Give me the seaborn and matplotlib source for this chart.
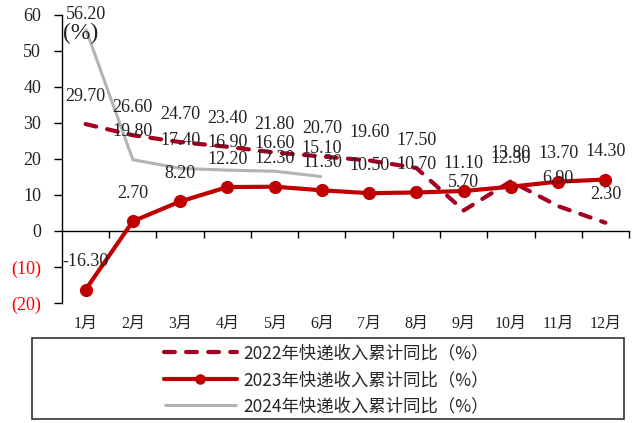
"""Express revenue cumulative YoY growth, 2022-2024 (line chart, seaborn)."""

import matplotlib.pyplot as plt
import numpy as np
import pandas as pd
import seaborn as sns
from matplotlib.patches import Rectangle

sns.set_theme(style="white")
plt.rcParams["font.family"] = ["Liberation Serif", "Noto Sans CJK SC", "DejaVu Sans"]

MONTHS = ["1月", "2月", "3月", "4月", "5月", "6月", "7月", "8月", "9月", "10月", "11月", "12月"]
Y2022 = [29.7, 26.6, 24.7, 23.4, 21.8, 20.7, 19.6, 17.5, 5.7, 13.8, 6.9, 2.3]
Y2023 = [-16.3, 2.7, 8.2, 12.2, 12.3, 11.3, 10.5, 10.7, 11.1, 12.3, 13.7, 14.3]
Y2024 = [56.2, 19.8, 17.4, 16.9, 16.6, 15.1]
LABELS = ["2022年快递收入累计同比（%）", "2023年快递收入累计同比（%）", "2024年快递收入累计同比（%）"]
YTICKS = [-20, -10, 0, 10, 20, 30, 40, 50, 60]
YTICK_LABELS = ["(20)", "(10)", "0", "10", "20", "30", "40", "50", "60"]

C22 = "#a50021"
C23 = "#c00000"
C24 = "#b3b3b3"
TXT = "#222222"

fig = plt.figure(figsize=(6.41, 4.23), dpi=100)
ax = fig.add_axes([0.0967, 0.2837, 0.8846, 0.6809])

idx = np.arange(len(MONTHS))
df22 = pd.DataFrame({"m": idx, "v": Y2022})
df23 = pd.DataFrame({"m": idx, "v": Y2023})
df24 = pd.DataFrame({"m": idx[: len(Y2024)], "v": Y2024})

sns.lineplot(data=df22, x="m", y="v", ax=ax, color=C22, lw=3.0,
             linestyle=(0, (2.6, 2.7)), dash_capstyle="round", label=LABELS[0], zorder=3)
sns.lineplot(data=df23, x="m", y="v", ax=ax, color=C23, lw=3.0, marker="o",
             markersize=9.5, markeredgecolor=C23, markeredgewidth=0, label=LABELS[1], zorder=4)
sns.lineplot(data=df24, x="m", y="v", ax=ax, color=C24, lw=2.2,
             solid_capstyle="butt", label=LABELS[2], zorder=2)

# data labels, all sitting above their points
for series in (df22, df23, df24):
    for m, v in zip(series["m"], series["v"]):
        off = 10 if v > 50 else 20
        ax.annotate(f"{v:.2f}", (m, v), xytext=(0, off), textcoords="offset points",
                    ha="center", va="center", fontsize=13, color=TXT, zorder=5)

ax.set_xlim(-0.5, 11.5)
ax.set_ylim(-20, 60)
ax.set_xlabel("")
ax.set_ylabel("")

# y axis with red bracketed negatives
ax.set_yticks(YTICKS)
ax.set_yticklabels(YTICK_LABELS, fontsize=13)
for lbl, v in zip(ax.get_yticklabels(), YTICKS):
    lbl.set_color("#ff0000" if v < 0 else TXT)
ax.tick_params(axis="y", direction="out", length=6, width=1, color="black", pad=9, left=True)

# x axis line through zero, boundary ticks only
for side in ("top", "right"):
    ax.spines[side].set_visible(False)
ax.spines["left"].set_color("black")
ax.spines["left"].set_linewidth(1)
ax.spines["bottom"].set_position(("data", 0))
ax.spines["bottom"].set_color("black")
ax.spines["bottom"].set_linewidth(1)
ax.set_xticks(np.arange(0.5, 12, 1))
ax.set_xticklabels([])
ax.tick_params(axis="x", direction="out", length=5, width=1, color="black", bottom=True)

# month names along the bottom edge
sec = ax.secondary_xaxis("bottom")
sec.set_xticks(idx)
sec.set_xticklabels(MONTHS, fontsize=11.5, color=TXT)
sec.tick_params(length=0, pad=9)
sec.spines["bottom"].set_visible(False)

ax.text(0.0335, 0.935, "(%)", transform=ax.transAxes, ha="center", va="center",
        fontsize=17, color=TXT)

handles, labels = ax.get_legend_handles_labels()
ax.get_legend().remove()
fig.legend(handles, labels, loc="center", bbox_to_anchor=(0.509, 0.102), frameon=False,
           prop={"family": ["Noto Sans CJK SC"], "size": 12.5},
           handlelength=4.2, handletextpad=0.4, labelspacing=0.5,
           numpoints=1, markerscale=0.8)
fig.patches.append(Rectangle((32 / 641, 1 - 419 / 423), (624 - 32) / 641, (419 - 338) / 423,
                             transform=fig.transFigure, fill=False, edgecolor="#333333", lw=1.2))

fig.savefig("out.png", dpi=100)
